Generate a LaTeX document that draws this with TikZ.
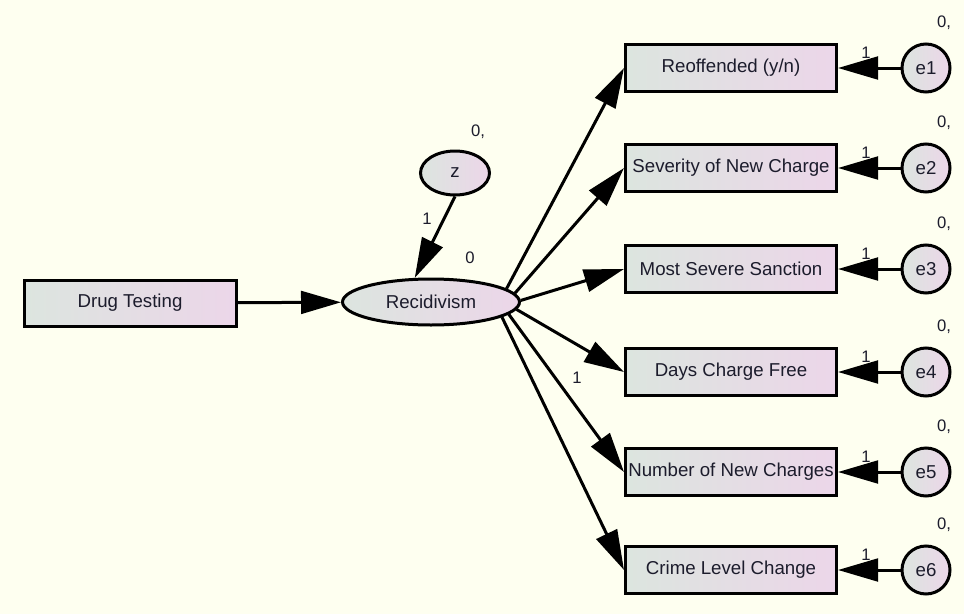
\documentclass[tikz,border=0pt]{standalone}
\usepackage{fontspec}
\setmainfont{Liberation Sans}
\usetikzlibrary{arrows.meta,shapes.geometric}
\definecolor{paper}{RGB}{254,255,240}
\definecolor{shadeL}{RGB}{220,229,223}
\definecolor{shadeR}{RGB}{236,214,233}
\definecolor{ink}{RGB}{28,28,44}
\begin{document}
\begin{tikzpicture}[x=0.75pt,y=-0.75pt,
  boxbase/.style={draw=black, line width=2.25pt, left color=shadeL, right color=shadeR,
    inner sep=0pt, text=ink, font=\fontsize{14}{16}\selectfont},
  obs/.style={boxbase, rectangle, minimum width=158.25pt, minimum height=35.25pt},
  lat/.style={boxbase, ellipse},
  err/.style={boxbase, circle, minimum size=36pt},
  regpath/.style={line width=2.25pt, -{Triangle[length=30pt,width=17pt]}},
  est/.style={text=ink, font=\fontsize{12.5}{14}\selectfont, inner sep=0pt}
]
% canvas
\fill[paper] (0,0) rectangle (964,614);
\useasboundingbox (0,0) rectangle (964,614);

% exogenous predictor and latent factor
\node[obs, minimum width=159pt, minimum height=34.5pt] (dt) at (130,303) {Drug Testing};
\node[lat, minimum width=132.75pt, minimum height=34.5pt] (rec) at (431,302) {Recidivism};
\node[lat, minimum width=51.75pt, minimum height=33pt] (z) at (455,173) {z};

\draw[regpath] (dt) -- (rec);
\draw[regpath] (z.south) -- (rec.124);

\node[est] at (478,132) {0,};
\node[est] at (470,258) {0};
\node[est] at (427,219) {1};
\node[est] at (577,378) {1};

% indicators with their error terms
\foreach \i/\y/\ang/\t in {1/68/10/{Reoffended (y/n)},
                          2/168/6/{Severity of New Charge},
                          3/269/1/{Most Severe Sanction},
                          4/372/355/{Days Charge Free},
                          5/472/351/{Number of New Charges},
                          6/570/348/{Crime Level Change}}{
  \node[obs] (o\i) at (731,\y) {\t};
  \node[err] (e\i) at (926,\y) {e\i};
  \draw[regpath] (rec.\ang) -- (o\i.west);
  \draw[regpath] (e\i) -- (o\i);
  \node[est] at (866,\y-15) {1};
  \node[est] at (944,\y-45) {0,};
}
\end{tikzpicture}
\end{document}
